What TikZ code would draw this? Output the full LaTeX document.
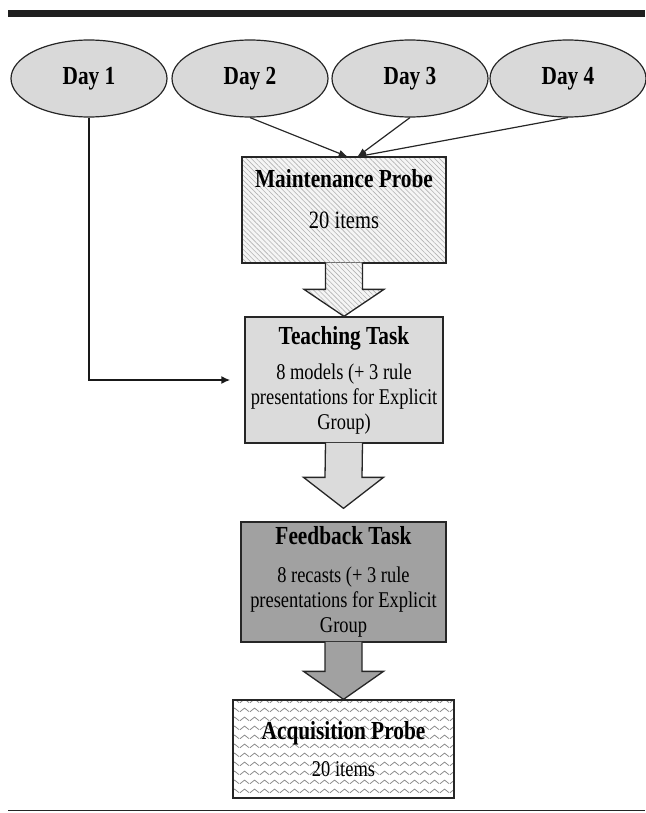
\documentclass[tikz,border=0pt]{standalone}
\usepackage{fontspec}
\setmainfont[FakeStretch=0.82]{Liberation Serif}
\usetikzlibrary{positioning,shapes.geometric,arrows.meta,patterns,patterns.meta,calc}

\newcommand{\ttlfont}{\fontsize{26}{28}\selectfont\bfseries}
\newcommand{\txtfont}{\fontsize{22.5}{25}\selectfont}

\pgfdeclarepatternformonly{zigzag}{\pgfpointorigin}{\pgfpoint{10pt}{9pt}}{\pgfpoint{10pt}{9pt}}{
  \pgfsetlinewidth{0.8pt}
  \pgfpathmoveto{\pgfpoint{0pt}{2.5pt}}
  \pgfpathlineto{\pgfpoint{5pt}{6.5pt}}
  \pgfpathlineto{\pgfpoint{10pt}{2.5pt}}
  \pgfusepath{stroke}
}

\tikzset{
  day/.style={ellipse, draw=black!85, fill=black!15, line width=1.2pt,
    minimum width=156pt, minimum height=77pt, inner sep=0pt, font=\ttlfont},
  taskbox/.style={rectangle, draw=black!85, line width=1.3pt, inner sep=0pt,
    align=center, font=\txtfont},
  hatch/.style={preaction={fill=black!4},
    pattern={Lines[angle=-45,distance=3.5pt,line width=0.6pt]}, pattern color=black!30},
  zigzagfill/.style={preaction={fill=white}, pattern=zigzag, pattern color=black!48},
  lightfill/.style={fill=black!14},
  darkfill/.style={fill=black!37},
  blockarrow/.style={draw=black!85, line width=1.3pt, line join=miter},
  dayline/.style={draw=black!85, line width=1.2pt, -{Latex[length=9pt,width=7pt]}},
  dayone/.style={draw=black!90, line width=2.2pt, -{Latex[length=9pt,width=8pt]}}
}

\begin{document}
\begin{tikzpicture}[x=1pt,y=1pt]
\useasboundingbox (0,0) rectangle (645,-813);

% rules at top and bottom
\fill[black!88] (8,-10) rectangle (645,-17);
\draw[line width=1.5pt, black!85] (8,-810.5) -- (645,-810.5);

% days
\node[day] (d1) at (89,-78.5) {Day 1};
\node[day] (d2) at (250,-78.5) {Day 2};
\node[day] (d3) at (410,-78.5) {Day 3};
\node[day] (d4) at (568,-78.5) {Day 4};

% boxes
\node[taskbox, hatch, minimum width=204pt, minimum height=106pt, text depth=22pt] (mp) at (344,-210)
  {{\ttlfont Maintenance Probe}\\[16pt]{\fontsize{25}{27}\selectfont 20 items}};
\node[taskbox, lightfill, minimum width=198pt, minimum height=126pt] (tt) at (344,-380)
  {{\ttlfont Teaching Task}\\[10pt]8 models (+ 3 rule\\presentations for Explicit\\Group)};
\node[taskbox, darkfill, minimum width=205pt, minimum height=120pt] (fb) at (343.5,-582)
  {{\ttlfont Feedback Task}\\[13pt]8 recasts (+ 3 rule\\presentations for Explicit\\Group};
\node[taskbox, zigzagfill, minimum width=221pt, minimum height=98pt] (ap) at (343.5,-749)
  {{\ttlfont Acquisition Probe}\\[12pt]20 items};

% day connectors
\draw[dayline] (d2.south) -- (mp.86);
\draw[dayline] (d3.south) -- (mp.76);
\draw[dayline] (d4.south) -- (mp.76);
\draw[dayone, shorten >=14pt] (d1.south) |- (tt.west);

% block arrows
\draw[blockarrow, hatch] ($(mp.south)+(-18.5,0.7)$) -- ($(tt.north)+(-18.5,27)$)
  -- ($(tt.north)+(-40,27)$) -- (tt.north) -- ($(tt.north)+(40,27)$)
  -- ($(tt.north)+(18.5,27)$) -- ($(mp.south)+(18.5,0.7)$);
\coordinate (ttfbtip) at ($(fb.north)+(0,13)$);
\draw[blockarrow, lightfill] ($(tt.south)+(-18.5,0.7)$) -- ($(ttfbtip)+(-18.5,31)$)
  -- ($(ttfbtip)+(-40,31)$) -- (ttfbtip) -- ($(ttfbtip)+(40,31)$)
  -- ($(ttfbtip)+(18.5,31)$) -- ($(tt.south)+(18.5,0.7)$);
\draw[blockarrow, darkfill] ($(fb.south)+(-18.5,0.7)$) -- ($(ap.north)+(-18.5,28)$)
  -- ($(ap.north)+(-40,28)$) -- (ap.north) -- ($(ap.north)+(40,28)$)
  -- ($(ap.north)+(18.5,28)$) -- ($(fb.south)+(18.5,0.7)$);
\end{tikzpicture}
\end{document}
